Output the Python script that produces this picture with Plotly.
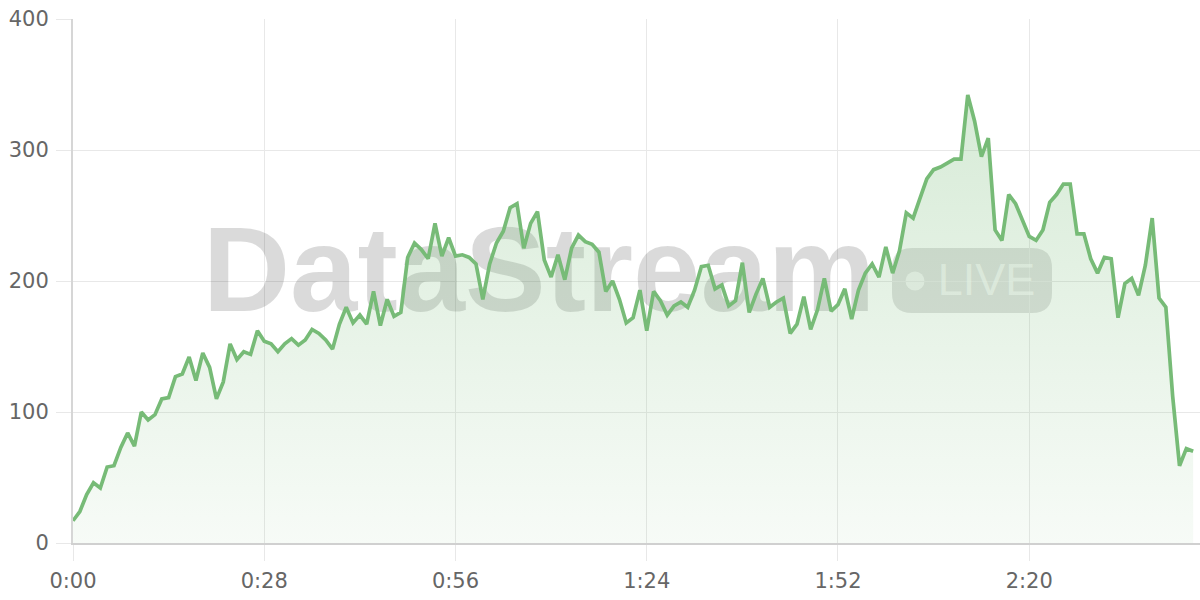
import plotly.graph_objects as go

# ---- data ----
seconds = list(range(165))
values = [
    17, 24, 37, 46, 42, 58, 59, 73, 84, 74,
    100, 94, 98, 110, 111, 127, 129, 142, 124, 145,
    134, 110, 123, 152, 140, 146, 144, 162, 154, 152,
    146, 152, 156, 151, 155, 163, 160, 155, 148, 167,
    180, 168, 174, 167, 192, 166, 186, 173, 176, 218,
    229, 224, 217, 244, 219, 233, 219, 220, 218, 213,
    186, 213, 229, 238, 256, 259, 225, 244, 253, 216,
    203, 220, 201, 225, 235, 230, 228, 222, 192, 200,
    186, 168, 172, 193, 162, 192, 185, 174, 181, 184,
    180, 193, 211, 212, 194, 197, 181, 185, 214, 176,
    190, 202, 180, 184, 187, 160, 167, 188, 163, 178,
    202, 177, 182, 194, 171, 193, 206, 213, 203, 226,
    206, 223, 252, 248, 263, 278, 285, 287, 290, 293,
    293, 342, 322, 295, 309, 239, 231, 266, 259, 246,
    234, 231, 239, 260, 266, 274, 274, 236, 236, 217,
    206, 218, 217, 172, 198, 202, 189, 212, 248, 187,
    180, 112, 59, 72, 70,
]
x_tick_values = [0, 28, 56, 84, 112, 140]
x_tick_labels = ["0:00", "0:28", "0:56", "1:24", "1:52", "2:20"]
y_tick_values = [0, 100, 200, 300, 400]

X_RANGE = [0, 165]
Y_RANGE = [0, 400]

# ---- layout geometry (pixels) ----
W, H = 1200, 600
ML, MR, MT, MB = 73, 0, 19, 57
PW, PH = W - ML - MR, H - MT - MB


def px_to_x(px):
    return X_RANGE[0] + (px - ML) / PW * (X_RANGE[1] - X_RANGE[0])


def py_to_y(py):
    return Y_RANGE[0] + (H - MB - py) / PH * (Y_RANGE[1] - Y_RANGE[0])


def rounded_rect_path(x0, y0, x1, y1, r):
    pts = [
        ("M", [(x0 + r, y0)]),
        ("L", [(x1 - r, y0)]),
        ("Q", [(x1, y0), (x1, y0 + r)]),
        ("L", [(x1, y1 - r)]),
        ("Q", [(x1, y1), (x1 - r, y1)]),
        ("L", [(x0 + r, y1)]),
        ("Q", [(x0, y1), (x0, y1 - r)]),
        ("L", [(x0, y0 + r)]),
        ("Q", [(x0, y0), (x0 + r, y0)]),
    ]
    parts = []
    for cmd, ps in pts:
        coords = " ".join(f"{px_to_x(a):.4f},{py_to_y(b):.4f}" for a, b in ps)
        parts.append(f"{cmd} {coords}")
    return " ".join(parts) + " Z"


GREEN = "rgb(119,187,119)"

fig = go.Figure()

# watermark text (drawn first, below the series)
fig.add_trace(go.Scatter(
    x=[px_to_x(539)], y=[py_to_y(280.5)], mode="text", text=["DataStream"],
    textposition="middle center",
    textfont=dict(family="Liberation Sans", size=121, weight="bold", color="rgba(0,0,0,0.145)"),
    hoverinfo="skip", showlegend=False,
))
fig.add_trace(go.Scatter(
    x=[px_to_x(986.5)], y=[py_to_y(284)], mode="text", text=["LIVE"],
    textposition="middle center",
    textfont=dict(family="Liberation Sans", size=45, color="rgba(255,255,255,0.65)"),
    hoverinfo="skip", showlegend=False,
))

# series
fig.add_trace(go.Scatter(
    x=seconds, y=values, mode="lines",
    line=dict(color=GREEN, width=3.7),
    fill="tozeroy",
    fillgradient=dict(
        type="vertical",
        colorscale=[[0, "rgba(119,187,119,0.06)"], [1, "rgba(119,187,119,0.30)"]],
        start=0, stop=350,
    ),
    hoverinfo="skip", showlegend=False,
))

shapes = [
    dict(type="path", xref="x", yref="y", layer="below",
         path=rounded_rect_path(892, 248, 1052, 313, 20),
         fillcolor="rgba(0,0,0,0.12)", line=dict(width=0)),
    dict(type="circle", xref="x", yref="y", layer="below",
         x0=px_to_x(905.5), x1=px_to_x(924.5), y0=py_to_y(290.5), y1=py_to_y(271.5),
         fillcolor="rgba(255,255,255,0.65)", line=dict(width=0)),
]

tick_font = dict(family="DejaVu Sans", color="#666666")

fig.update_layout(
    width=W, height=H,
    margin=dict(l=ML, r=MR, t=MT, b=MB, pad=0, autoexpand=False),
    paper_bgcolor="white", plot_bgcolor="white",
    showlegend=False,
    hovermode=False,
    shapes=shapes,
    xaxis=dict(
        range=X_RANGE, tickmode="array", tickvals=x_tick_values, ticktext=x_tick_labels,
        showgrid=True, gridcolor="#e8e8e8", gridwidth=1,
        showline=True, linecolor="#d0d0d0", linewidth=2,
        ticks="outside", ticklen=16, tickcolor="#e8e8e8", tickwidth=1,
        ticklabelstandoff=2, automargin=False,
        zeroline=False, tickfont=dict(size=21, **tick_font),
    ),
    yaxis=dict(
        range=Y_RANGE, tickmode="array", tickvals=y_tick_values,
        showgrid=True, gridcolor="#e8e8e8", gridwidth=1,
        showline=True, linecolor="#d6d6d6", linewidth=2,
        ticks="outside", ticklen=15, tickcolor="#e8e8e8", tickwidth=1,
        ticklabelstandoff=3, automargin=False,
        zeroline=False, tickfont=dict(size=21, **tick_font),
    ),
)

fig.write_html(
    "out.html",
    config={"displayModeBar": False, "staticPlot": True},
    post_script="document.body.style.margin='0';document.body.style.overflow='hidden';",
)
